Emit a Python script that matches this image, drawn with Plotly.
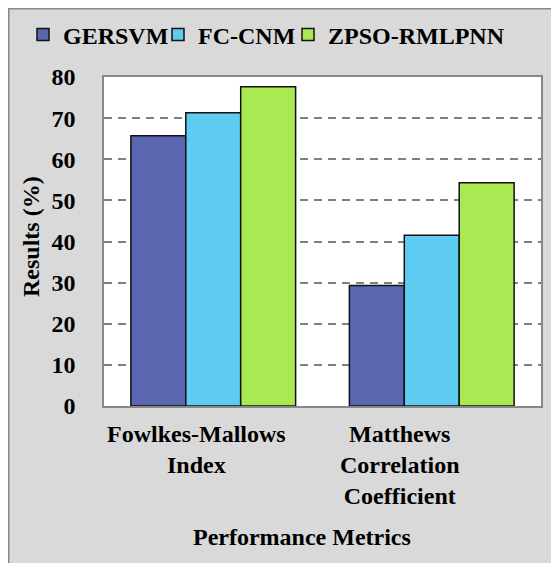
import plotly.graph_objects as go

categories = ["Fowlkes-Mallows<br>Index", "Matthews<br>Correlation<br>Coefficient"]
series_names = ["GERSVM", "FC-CNM", "ZPSO-RMLPNN"]
gersvm = [65.7, 29.3]
fccnm = [71.3, 41.5]
zpso = [77.6, 54.3]
y_ticks = [0, 10, 20, 30, 40, 50, 60, 70, 80]

colors = ["#5a67b0", "#5ecbf0", "#a9ea52"]
legend_widths = [90, 85, 180]
FONT = "Liberation Serif"
BF = dict(family=FONT, size=24, color="black", weight="bold")

# page body has an 8px margin; figure pixel = screen pixel - 8
ML, MT, PW, PH = 96, 69, 437, 329
W, H = 559, 563

fig = go.Figure()
for name, vals, c, lw in zip(series_names, [gersvm, fccnm, zpso], colors, legend_widths):
    fig.add_trace(go.Bar(x=[0, 1], y=vals, name=name, legendwidth=lw,
                         marker=dict(color=c, line=dict(color="#111111", width=1.5))))

px = lambda v: (v - ML) / PW
py = lambda v: (MT + PH - v) / PH

fig.update_layout(
    width=W, height=H,
    margin=dict(l=ML, r=W - ML - PW, t=MT, b=H - MT - PH, autoexpand=False),
    paper_bgcolor="#d9d9d9", plot_bgcolor="white",
    barmode="group", bargap=0.246, bargroupgap=0,
    font=BF,
    showlegend=True,
    legend=dict(orientation="h", x=px(15), xanchor="left", y=py(27), yanchor="middle",
                font=BF, bgcolor="rgba(0,0,0,0)", itemwidth=30, tracegroupgap=0),
    xaxis=dict(range=[-0.5, 1.5], showticklabels=False, ticks="", showgrid=False, automargin=False,
               showline=True, linecolor="#888888", linewidth=1.5, mirror=True, zeroline=False),
    yaxis=dict(range=[0, 80], tickvals=y_ticks, ticks="", ticklabelstandoff=22, automargin=False,
               tickfont=BF,
               showgrid=True, gridcolor="#808080", griddash="8px,6px", gridwidth=2,
               showline=True, linecolor="#888888", linewidth=1.5, mirror=True, zeroline=False),
)

fig.add_annotation(x=px(23), xref="paper", xanchor="center", y=py(229), yref="paper", yanchor="middle",
                   text="Results (%)", textangle=-90, showarrow=False, font=BF)

label_shifts = [-17, -32]
for i, (cat, xs) in enumerate(zip(categories, label_shifts)):
    fig.add_annotation(x=i, xref="x", y=0, yref="paper", yanchor="top", yshift=-13, xshift=xs,
                       text=cat, showarrow=False, align="center", font=BF)
fig.add_annotation(x=0.5, xref="paper", xshift=-21, y=0, yref="paper", yanchor="middle", yshift=-131,
                   text="Performance Metrics", showarrow=False, font=BF)

# outer frame line along figure's left and top edges
fig.add_shape(type="line", xref="paper", yref="paper", x0=px(0), x1=px(0), y0=py(0), y1=py(H),
              line=dict(color="#888888", width=3))
fig.add_shape(type="line", xref="paper", yref="paper", x0=px(0), x1=px(W), y0=py(0), y1=py(0),
              line=dict(color="#888888", width=3))

fig.write_html("out.html")
